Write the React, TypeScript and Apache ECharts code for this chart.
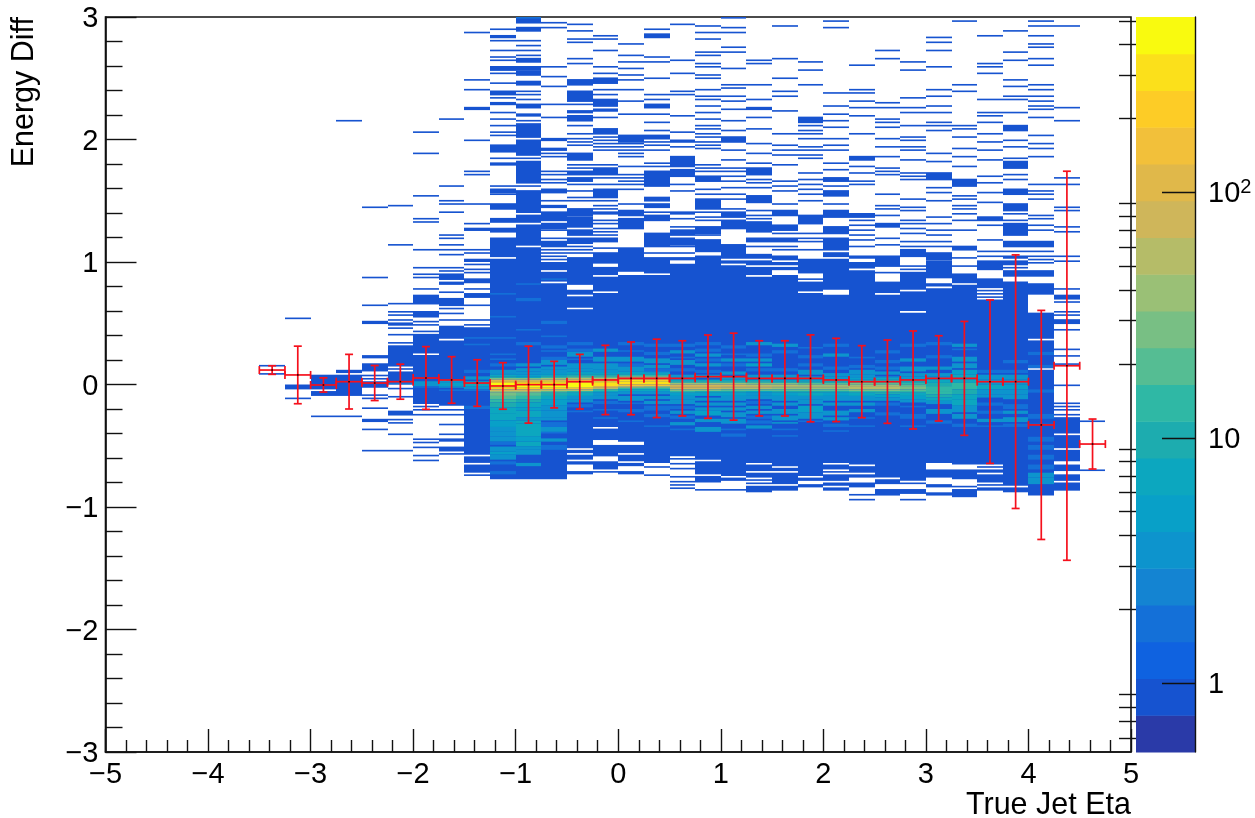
import React, { useEffect, useRef } from "react";
import * as echarts from "echarts";

// Histogram binning (bins are counted from the top of the plot, y = 3)
const yTopEdge = 3;
const yBinHeight = 6 / 450;
const xBinWidth = 0.25;

// Filled cells, flat pairs: first bin, number of bins (one count per cell)
const fillM350 = [213,1,218,1];
const fillM325 = [184,1,225,3,233,1];
const fillM300 = [219,9,229,3,244,1];
const fillM275 = [63,1,216,2,219,13,244,1];
const fillM250 = [116,1,159,1,176,1,186,2,207,2,212,5,219,1,221,1,223,4,231,1,233,1,239,1,246,2,252,1,265,1];
const fillM225 = [115,1,139,1,175,1,180,1,182,1,185,1,187,2,190,1,194,1,199,1,201,13,215,1,217,8,227,1,232,1,241,3,246,1,248,1,255,1,265,1];
const fillM200 = [70,1,83,1,109,1,123,1,125,1,142,1,153,1,157,1,159,1,166,1,170,6,180,4,186,1,188,1,192,1,194,12,207,30,238,1,240,1,243,1,258,1,260,1,263,1,268,1,271,1];
const fillM175 = [62,1,103,1,112,1,114,1,119,1,133,1,135,1,139,1,142,1,145,1,153,1,155,1,157,4,162,2,168,1,172,5,178,1,181,1,185,1,189,8,198,40,240,1,243,1,249,1,255,1,258,2,263,3,267,1];
const fillM150 = [9,1,38,1,44,1,55,2,75,1,94,1,96,1,114,1,126,1,129,2,142,1,144,1,148,2,151,1,154,1,156,1,160,3,166,1,169,3,176,1,185,1,188,1,190,78,269,4,274,5,280,1];
const fillM125 = [7,1,11,2,14,1,20,1,24,1,26,1,30,3,34,1,40,1,45,3,49,1,52,2,58,1,62,1,66,1,70,1,72,1,78,5,86,1,89,2,103,1,105,3,108,1,114,4,123,3,129,3,135,12,148,135];
const fillM100 = [0,4,6,3,14,1,17,1,20,1,23,1,25,3,30,3,33,3,39,3,45,1,47,1,50,1,53,3,59,2,63,1,65,9,75,10,86,1,88,14,103,1,106,14,121,5,127,13,141,142];
const fillM075 = [3,1,6,1,30,1,36,1,42,1,53,1,61,1,74,2,80,2,83,1,85,1,94,1,96,1,99,1,101,1,105,3,112,1,115,2,119,6,126,4,130,1,135,1,137,4,142,1,144,1,146,1,148,1,150,5,156,6,163,120];
const fillM050 = [4,1,8,1,13,1,15,1,25,1,28,1,38,4,45,7,53,1,57,2,60,4,66,1,71,1,74,1,76,1,78,1,83,5,90,1,92,1,94,3,98,3,102,1,106,1,110,1,112,1,117,5,122,7,130,4,135,4,140,1,142,1,144,1,147,17,167,3,171,7,179,85,265,2,268,3,272,2,278,2];
const fillM025 = [11,1,13,1,20,1,30,1,34,1,37,4,44,1,47,1,50,5,56,2,61,1,68,4,73,1,75,1,77,1,79,1,81,1,90,1,92,5,98,1,102,1,105,6,112,1,115,1,117,1,119,2,124,1,126,1,129,1,131,1,133,1,135,3,141,1,144,6,150,1,153,5,159,9,169,82,252,7,262,7,272,5,278,1];
const fillP000 = [16,1,23,1,27,1,31,1,35,1,38,1,44,1,51,1,59,1,72,5,77,1,79,1,81,1,83,1,85,1,91,1,96,1,98,1,100,1,102,1,105,1,114,1,118,4,123,7,141,15,158,102,262,5,268,4,273,2,278,2];
const fillP025 = [7,1,10,3,24,1,27,1,37,1,47,1,50,1,53,3,59,1,64,1,69,1,72,3,76,1,78,1,81,1,89,1,91,1,94,10,110,3,114,3,119,1,121,4,132,9,144,1,147,10,158,115,275,1,280,1];
const fillP050 = [4,1,26,1,34,1,45,1,47,1,60,1,70,1,75,2,79,1,85,7,93,5,102,1,106,1,119,2,123,1,128,1,130,4,135,5,140,1,144,1,147,2,151,118,270,1,273,1,276,1,281,1,284,1,286,1,288,1];
const fillP075 = [5,1,9,1,13,1,21,1,23,1,28,1,30,1,35,1,37,1,44,1,48,1,50,1,54,1,58,1,62,1,66,1,68,1,71,1,73,1,76,1,78,1,80,1,90,1,92,1,94,1,97,4,105,1,108,1,111,7,119,1,122,1,124,1,128,5,133,1,136,8,146,125,272,8,281,4,289,1];
const fillP100 = [0,1,6,1,9,1,18,1,21,1,31,1,41,1,43,1,48,1,51,1,56,1,63,1,69,1,73,4,81,1,87,1,92,1,94,1,97,1,100,1,104,1,108,1,111,1,117,1,119,4,124,6,139,9,149,2,152,129,282,2,289,1];
const fillP125 = [26,1,28,1,41,1,50,1,55,2,61,1,68,1,77,1,83,1,89,1,92,5,99,1,101,1,104,1,109,5,118,1,121,1,123,1,125,7,135,3,140,1,145,3,149,3,153,5,159,114,274,4,279,3,283,1,285,1,287,4];
const fillP150 = [5,1,25,1,37,1,45,1,48,1,57,1,71,1,78,1,81,1,84,1,90,1,100,1,103,1,106,1,114,1,118,4,127,4,132,1,135,3,140,1,142,1,146,3,150,2,153,2,158,117,276,2,279,7,287,3];
const fillP175 = [27,1,32,1,41,1,61,4,66,1,69,1,71,1,74,1,79,1,81,1,84,1,86,1,95,1,99,1,102,1,105,1,108,1,112,1,121,6,132,1,135,1,137,1,142,1,148,9,160,1,162,6,169,112,282,2,286,2];
const fillP200 = [2,1,6,1,46,1,54,1,59,1,63,1,67,1,74,1,78,1,81,1,89,1,93,1,98,3,103,1,106,4,114,1,118,5,128,5,135,8,144,3,148,19,170,103,274,3,278,1,280,4,285,2,288,2];
const fillP225 = [29,1,44,1,46,1,51,1,55,1,60,1,71,1,85,3,91,1,95,1,100,1,102,1,120,3,124,1,127,1,130,1,133,1,136,1,140,1,146,2,150,4,155,119,275,4,280,2,285,3,292,1,295,1];
const fillP250 = [20,1,25,1,52,1,55,1,62,1,64,1,67,1,74,1,79,1,85,1,92,1,94,1,96,1,108,1,115,1,117,1,121,1,126,3,135,1,139,1,146,7,156,1,162,7,170,112,283,3,289,4];
const fillP275 = [27,1,32,1,49,1,55,1,58,1,66,1,73,1,75,1,79,1,81,1,87,1,95,1,97,1,99,1,111,1,116,1,118,1,124,1,126,1,129,1,132,1,137,1,140,1,142,5,152,1,154,1,156,11,168,12,181,103,285,1,289,3,295,1];
const fillP300 = [12,1,15,1,20,1,30,1,44,1,48,1,54,1,58,1,64,1,66,1,69,1,83,1,88,1,95,5,104,1,107,1,112,1,122,1,126,1,130,1,133,1,137,1,140,1,144,5,149,11,163,2,166,107,277,5,286,2,291,2];
const fillP325 = [2,1,41,1,45,1,66,1,68,1,73,1,80,1,85,1,91,1,99,5,109,1,111,1,115,1,117,1,120,1,124,1,130,1,140,3,147,1,152,1,157,6,164,110,277,6,287,1,289,5];
const fillP350 = [11,1,28,1,30,1,34,1,50,1,58,1,60,1,64,1,71,1,76,1,81,1,87,1,97,1,101,1,107,1,113,1,122,3,127,1,136,1,143,1,146,1,149,6,160,6,167,1,169,1,171,1,173,101,275,1,277,2,280,5,286,1,288,2];
const fillP375 = [8,1,21,1,26,1,38,1,42,1,48,1,50,1,58,1,66,4,75,1,79,1,86,1,88,5,96,1,99,1,105,4,114,5,120,1,124,1,126,8,137,4,143,1,146,2,149,3,153,1,155,4,162,125,288,3];
const fillP400 = [2,1,5,1,11,1,16,1,18,1,25,1,29,1,41,1,44,1,48,1,51,1,54,1,56,1,61,1,72,1,77,1,80,1,85,1,102,1,106,1,108,1,111,1,121,1,123,1,127,1,130,1,137,4,143,1,146,1,148,1,150,1,155,4,163,7,181,16,198,17,216,77];
const fillP425 = [5,1,55,1,63,1,98,1,102,1,116,1,118,1,128,1,131,1,146,1,149,1,166,1,170,3,174,1,180,1,182,1,185,3,191,1,203,1,207,1,212,1,225,1,236,1,238,1,240,1,243,1,245,10,256,8,265,7,274,4,280,4,285,5];
const fillP450 = [247,1,277,1];

// Cells holding more than one count, flat triples: first bin, number of bins, count
const coreM225 = [223,2,2];
const coreM200 = [223,3,3,226,1,2];
const coreM175 = [222,2,3,224,2,5,226,1,3,228,1,2];
const coreM150 = [196,1,2,200,1,2,216,2,2,220,2,3,223,3,7,226,2,4,228,1,2,238,2,2];
const coreM125 = [169,1,2,183,1,2,196,1,2,206,1,2,209,1,2,212,2,2,216,2,3,218,1,4,219,1,6,220,1,10,221,1,30,222,1,100,223,1,250,224,3,450,227,1,250,228,1,90,229,1,40,230,2,24,232,2,18,234,2,13,236,3,10,239,4,7,243,4,6,247,4,5,251,3,3,254,3,4,257,3,3,260,2,2,263,3,4,266,2,5,268,3,3,272,2,2,278,2,2];
const coreM100 = [0,1,2,163,1,2,172,2,2,191,1,2,199,2,2,212,2,3,215,2,3,217,2,4,219,1,5,220,1,8,221,1,25,222,1,80,223,1,220,224,3,400,227,1,220,228,1,80,229,1,35,230,2,18,232,2,13,234,2,10,236,3,7,239,2,5,241,4,6,245,2,4,247,2,6,249,8,7,257,3,5,260,3,6,263,2,3,265,3,4,273,2,3];
const coreM075 = [160,1,2,186,2,2,195,1,2,201,2,2,204,1,2,208,2,2,210,3,3,214,2,3,216,2,4,218,1,5,219,1,7,220,1,12,221,1,35,222,1,110,223,1,260,224,3,400,227,1,200,228,1,60,229,1,20,230,2,10,232,2,6,234,4,5,238,3,4,241,4,3,245,2,4,248,3,2,251,3,3,254,1,2,258,2,3,262,3,2];
const coreM050 = [199,2,2,203,2,2,205,3,3,209,1,2,212,3,3,215,2,4,217,1,5,218,1,7,219,1,11,220,1,20,221,1,60,222,1,180,223,1,350,224,3,400,227,1,180,228,1,50,229,1,14,230,2,7,232,2,4,234,2,3,237,2,2,241,1,2];
const coreM025 = [203,2,3,208,3,3,212,4,3,216,2,4,218,1,6,219,1,9,220,1,18,221,1,50,222,1,170,223,1,300,224,2,350,226,1,170,227,1,55,228,1,16,229,1,8,230,2,4,232,2,3,235,2,2,240,1,2,245,1,2];
const coreP000 = [199,2,2,204,1,2,208,3,3,212,2,2,214,3,3,217,1,5,218,1,8,219,1,14,220,1,40,221,1,140,222,1,260,223,2,320,225,1,150,226,1,50,227,1,16,228,1,7,229,2,4,232,3,3,236,1,2,240,2,2,247,1,2];
const coreP025 = [200,2,2,205,2,2,209,3,3,213,2,3,215,2,2,217,1,4,218,1,7,219,1,13,220,1,35,221,1,120,222,1,240,223,2,300,225,1,140,226,1,45,227,1,15,228,1,8,229,2,4,232,2,3,235,2,3,238,3,2,243,2,2,250,1,2];
const coreP050 = [200,2,2,204,2,3,208,1,2,210,3,4,215,2,2,219,2,3,221,1,4,222,1,7,223,1,14,224,1,40,225,1,90,226,1,110,227,1,80,228,1,30,229,1,12,230,2,5,232,2,3,234,3,4,238,2,2,241,2,4,244,2,2,248,2,4,252,1,2];
const coreP075 = [199,2,2,203,2,2,206,2,3,209,2,2,212,2,3,216,2,2,219,2,3,222,1,6,223,1,14,224,1,35,225,1,75,226,1,95,227,1,70,228,1,25,229,1,10,230,2,5,233,2,4,236,2,3,239,2,3,241,3,5,246,2,3,251,3,3];
const coreP100 = [201,2,2,206,1,2,209,2,3,212,2,2,217,2,3,220,2,3,222,1,6,223,1,16,224,1,35,225,1,70,226,1,85,227,1,60,228,1,22,229,1,9,230,2,5,232,3,4,236,2,3,239,2,4,242,3,4,246,3,3,252,1,2,255,2,2];
const coreP125 = [199,2,3,206,2,2,209,2,4,212,2,5,215,2,2,219,2,4,222,1,6,223,1,14,224,1,30,225,1,60,226,1,75,227,1,50,228,1,18,229,1,8,230,2,4,232,2,3,235,2,2,238,2,4,241,2,3,244,2,2,247,2,2,250,2,3];
const coreP150 = [200,2,3,204,2,2,215,2,2,219,2,3,222,1,5,223,1,10,224,1,24,225,1,50,226,1,65,227,1,45,228,1,18,229,1,9,230,2,5,232,3,3,236,2,4,240,3,4,244,3,3,248,1,3,252,1,2,256,1,2];
const coreP175 = [202,1,2,207,2,2,212,2,2,216,3,3,220,2,3,222,1,5,223,1,10,224,1,22,225,1,45,226,1,55,227,1,40,228,1,18,229,1,9,230,2,6,232,2,4,234,3,3,238,4,5,242,4,4,247,1,2];
const coreP200 = [200,2,2,206,2,3,214,2,2,218,2,3,220,2,4,222,1,6,223,1,11,224,1,20,225,1,40,226,1,50,227,1,35,228,1,18,229,1,9,230,2,5,232,3,4,236,2,3,241,3,4,245,2,3,249,2,2,253,1,2];
const coreP225 = [208,1,2,213,2,2,216,3,3,219,2,4,221,1,5,222,1,8,223,1,14,224,1,24,225,1,45,226,2,55,228,1,28,229,1,14,230,2,7,232,3,4,236,2,3,240,2,3,245,1,2,250,1,2];
const coreP250 = [204,2,2,210,2,2,214,2,2,217,2,3,220,1,4,221,1,6,222,1,9,223,1,15,224,1,22,225,1,38,226,2,48,228,1,30,229,1,16,230,1,9,231,2,5,233,2,3,236,2,2,242,2,2];
const coreP275 = [200,2,2,209,2,3,214,3,4,218,2,3,220,2,4,222,1,6,223,1,10,224,1,14,225,1,20,226,2,26,228,1,18,229,1,12,230,2,8,232,2,5,234,2,3,238,1,2,243,3,2,250,1,2];
const coreP300 = [199,2,2,207,2,2,214,2,3,218,2,3,220,2,4,222,2,6,224,2,10,226,3,16,229,2,13,231,2,9,233,2,6,235,2,4,240,3,3,247,2,2];
const coreP325 = [200,2,3,203,1,2,208,3,3,212,3,4,216,3,5,219,3,6,222,2,8,224,4,12,228,3,10,231,3,7,234,4,6,238,4,4,243,3,3,249,2,2];
const coreP350 = [216,2,2,219,3,3,222,3,4,225,3,6,228,3,4,231,2,3,236,2,2,241,2,2,246,2,3,250,1,2];
const coreP375 = [210,2,2,216,2,2,219,3,3,222,3,3,225,3,5,228,3,4,231,3,3,237,3,2,241,2,3,245,3,3,249,2,2];
const coreP400 = [205,2,2,213,2,2,228,2,2,243,3,2,249,1,2,257,3,2,262,3,2,268,3,2,274,3,2,279,3,3,282,4,4];

// Left edge of each column with its cell lists
const columnEdges = [-3.5,-3.25,-3,-2.75,-2.5,-2.25,-2,-1.75,-1.5,-1.25,-1,-0.75,-0.5,-0.25,0,0.25,0.5,0.75,1,1.25,1.5,1.75,2,2.25,2.5,2.75,3,3.25,3.5,3.75,4,4.25,4.5];
const columnFills = [fillM350,fillM325,fillM300,fillM275,fillM250,fillM225,fillM200,fillM175,fillM150,fillM125,fillM100,fillM075,fillM050,fillM025,fillP000,fillP025,fillP050,fillP075,fillP100,fillP125,fillP150,fillP175,fillP200,fillP225,fillP250,fillP275,fillP300,fillP325,fillP350,fillP375,fillP400,fillP425,fillP450];
const columnCores = [[],[],[],[],[],coreM225,coreM200,coreM175,coreM150,coreM125,coreM100,coreM075,coreM050,coreM025,coreP000,coreP025,coreP050,coreP075,coreP100,coreP125,coreP150,coreP175,coreP200,coreP225,coreP250,coreP275,coreP300,coreP325,coreP350,coreP375,coreP400,[],[]];

// Profile points: bin centre, mean, spread
const profileX = [-3.375,-3.125,-2.875,-2.625,-2.375,-2.125,-1.875,-1.625,-1.375,-1.125,-0.875,-0.625,-0.375,-0.125,0.125,0.375,0.625,0.875,1.125,1.375,1.625,1.875,2.125,2.375,2.625,2.875,3.125,3.375,3.625,3.875,4.125,4.375,4.625];
const profileMean = [0.118,0.078,-0.004,0.023,0.012,0.023,0.053,0.037,0.012,-0.012,-0.001,-0.001,0.023,0.037,0.05,0.05,0.05,0.064,0.064,0.05,0.05,0.05,0.037,0.023,0.023,0.037,0.05,0.05,0.023,0.023,-0.33,0.153,-0.486];
const profileSpread = [0.035,0.235,0.058,0.223,0.143,0.143,0.256,0.19,0.19,0.19,0.314,0.19,0.223,0.283,0.297,0.32,0.307,0.34,0.355,0.307,0.307,0.355,0.34,0.294,0.34,0.4,0.348,0.465,0.667,1.035,0.935,1.588,0.204];

// Colour scale
const zMin = 0.525;
const zMax = 518;
const bandColors = ["#2a3aa8","#1653d0","#0f62e0","#1470d8","#1484d2","#0d94cd","#08a0c8","#0ca7bf","#1dacaf","#2fb8a5","#55bd93","#78bf84","#9ac076","#b5bc68","#cfb65a","#e0b84a","#f2c03a","#fdcc26","#fbe01b","#f9fa0f"];
const majorZTicks = [1, 10, 100];
const minorZTicks = [0.6,0.7,0.8,0.9,2,3,4,5,6,7,8,9,20,30,40,50,60,70,80,90,200,300,400,500];
const xTitle = "True Jet Eta";
const yTitle = "Energy Diff";
const fontFamily = "'Liberation Sans', Helvetica, Arial, sans-serif";

const logMin = Math.log10(zMin);
const logMax = Math.log10(zMax);
const bandSpan = (logMax - logMin) / bandColors.length;
const colorOf = (count: number) => {
  const idx = Math.floor((Math.log10(count) - logMin) / bandSpan);
  return bandColors[Math.max(0, Math.min(bandColors.length - 1, idx))];
};

const cells: number[][] = [];
columnEdges.forEach((edge, k) => {
  const fill = columnFills[k];
  for (let i = 0; i < fill.length; i += 2) {
    cells.push([edge, yTopEdge - fill[i] * yBinHeight, yTopEdge - (fill[i] + fill[i + 1]) * yBinHeight, 1]);
  }
  const core = columnCores[k];
  for (let i = 0; i < core.length; i += 3) {
    cells.push([edge, yTopEdge - core[i] * yBinHeight, yTopEdge - (core[i] + core[i + 1]) * yBinHeight, core[i + 2]]);
  }
});
const profile = profileX.map((x, i) => [x, profileMean[i], xBinWidth / 2, profileSpread[i]]);
const bands = bandColors.map((c, i) => [logMin + i * bandSpan, logMin + (i + 1) * bandSpan, i]);

const label = (v: number) => String(v).replace("-", "\u2212");

export default function App() {
  const ref = useRef<HTMLDivElement>(null);
  useEffect(() => {
    const chart = echarts.init(ref.current!, null, { renderer: "svg" });
    const textBase = { color: "#000", fontFamily, fontSize: 29 };
    const titleBase = { ...textBase, fontSize: 30.5 };
    chart.setOption({
      animation: false,
      backgroundColor: "#fff",
      grid: [
        { left: 105.5, top: 17, width: 1025.5, height: 735, show: true, borderColor: "#111", borderWidth: 1.6, backgroundColor: "transparent", containLabel: false },
        { left: 1136, top: 17, width: 59, height: 735, containLabel: false },
      ],
      xAxis: [
        {
          type: "value", gridIndex: 0, min: -5, max: 5, interval: 1, position: "bottom", z: 10,
          name: xTitle, nameLocation: "end", nameGap: 0,
          nameMoveOverlap: false,
          nameTextStyle: { ...titleBase, align: "right", verticalAlign: "top", padding: [35, 0, 0, 0] },
          axisLine: { show: true, onZero: false, lineStyle: { color: "#111", width: 1.6 } },
          axisTick: { show: true, inside: true, length: 23, lineStyle: { color: "#111", width: 1.4 } },
          minorTick: { show: true, splitNumber: 5, length: 12, lineStyle: { color: "#111", width: 1.4 } },
          splitLine: { show: false }, minorSplitLine: { show: false },
          axisLabel: { ...textBase, margin: 6, formatter: label, showMinLabel: true, showMaxLabel: true, hideOverlap: false },
        },
        { type: "value", gridIndex: 1, min: 0, max: 1, show: false },
      ],
      yAxis: [
        {
          type: "value", gridIndex: 0, min: -3, max: 3, interval: 1, position: "left", z: 10,
          name: yTitle, nameLocation: "end", nameGap: 0, nameRotate: 90,
          nameMoveOverlap: false,
          nameTextStyle: { ...titleBase, align: "right", verticalAlign: "bottom", padding: [0, 0, 68, 0] },
          axisLine: { show: true, onZero: false, lineStyle: { color: "#111", width: 1.6 } },
          axisTick: { show: true, inside: true, length: 31, lineStyle: { color: "#111", width: 1.4 } },
          minorTick: { show: true, splitNumber: 5, length: 17, lineStyle: { color: "#111", width: 1.4 } },
          splitLine: { show: false }, minorSplitLine: { show: false },
          axisLabel: { ...textBase, margin: 7, formatter: label, showMinLabel: true, showMaxLabel: true, hideOverlap: false },
        },
        {
          type: "value", gridIndex: 1, min: logMin, max: logMax, position: "right", z: 10,
          axisLine: { show: true, onZero: false, lineStyle: { color: "#111", width: 1.4 } },
          axisTick: { show: true, inside: true, length: 33, customValues: majorZTicks.map(Math.log10), lineStyle: { color: "#111", width: 1.4 } },
          splitLine: { show: false },
          axisLabel: {
            ...textBase, margin: 13, customValues: majorZTicks.map(Math.log10), showMinLabel: true, showMaxLabel: true,
            formatter: (v: number) => {
              const n = Math.round(v);
              return n < 2 ? `{big|${Math.pow(10, n)}}` : `{big|10}{sup|${n}}`;
            },
            rich: {
              big: { ...textBase, padding: [0, 0, 0, 0] },
              sup: { ...textBase, fontSize: 20, verticalAlign: "top", padding: [0, 0, 12, 0] },
            },
          },
        },
        {
          type: "value", gridIndex: 1, min: logMin, max: logMax, position: "right", z: 10,
          axisLine: { show: false },
          axisTick: { show: true, inside: true, length: 17, customValues: minorZTicks.map(Math.log10), lineStyle: { color: "#111", width: 1.4 } },
          splitLine: { show: false },
          axisLabel: { show: false },
        },
      ],
      series: [
        {
          type: "custom", name: "cells", xAxisIndex: 0, yAxisIndex: 0, clip: true, silent: true, progressive: 0, z: 1,
          encode: { x: 0, y: 1 },
          data: cells,
          renderItem: (_p: any, api: any) => {
            const a = api.coord([api.value(0), api.value(1)]);
            const b = api.coord([api.value(0) + xBinWidth, api.value(2)]);
            const x0 = Math.round(a[0]);
            return {
              type: "rect",
              shape: { x: x0, y: a[1], width: Math.round(b[0]) - x0, height: b[1] - a[1] },
              style: { fill: colorOf(api.value(3)) },
            };
          },
        },
        {
          type: "custom", name: "palette", xAxisIndex: 1, yAxisIndex: 1, clip: false, silent: true, progressive: 0, z: 1,
          encode: { y: 0 },
          data: bands,
          renderItem: (_p: any, api: any) => {
            const a = api.coord([0, api.value(1)]);
            const b = api.coord([1, api.value(0)]);
            return {
              type: "rect",
              shape: { x: a[0], y: a[1], width: b[0] - a[0], height: b[1] - a[1] + 0.5 },
              style: { fill: bandColors[api.value(2)] },
            };
          },
        },
        {
          type: "custom", name: "profile", xAxisIndex: 0, yAxisIndex: 0, clip: false, silent: true, progressive: 0, z: 5,
          encode: { x: 0, y: 1 },
          data: profile,
          renderItem: (_p: any, api: any) => {
            const x = api.value(0), y = api.value(1), ex = api.value(2), ey = api.value(3);
            const c = api.coord([x, y]);
            const l = api.coord([x - ex, y]);
            const r = api.coord([x + ex, y]);
            const t = api.coord([x, y + ey]);
            const d = api.coord([x, y - ey]);
            const cap = 4;
            const line = (x1: number, y1: number, x2: number, y2: number) => ({
              type: "line",
              shape: { x1, y1, x2, y2 },
              style: { stroke: "#f5101c", lineWidth: 1.7, fill: "none" },
            });
            return {
              type: "group",
              children: [
                line(l[0], l[1], r[0], r[1]),
                line(t[0], t[1], d[0], d[1]),
                line(l[0], l[1] - cap, l[0], l[1] + cap),
                line(r[0], r[1] - cap, r[0], r[1] + cap),
                line(t[0] - cap, t[1], t[0] + cap, t[1]),
                line(d[0] - cap, d[1], d[0] + cap, d[1]),
                { type: "rect", shape: { x: c[0] - 0.8, y: c[1] - 0.8, width: 1.6, height: 1.6 }, style: { fill: "#200" } },
              ],
            };
          },
        },
      ],
    });
    return () => chart.dispose();
  }, []);
  return <div ref={ref} style={{ position: "fixed", left: 0, top: 0, width: 1255, height: 818, background: "#fff", filter: "blur(0.45px)" }} />;
}
